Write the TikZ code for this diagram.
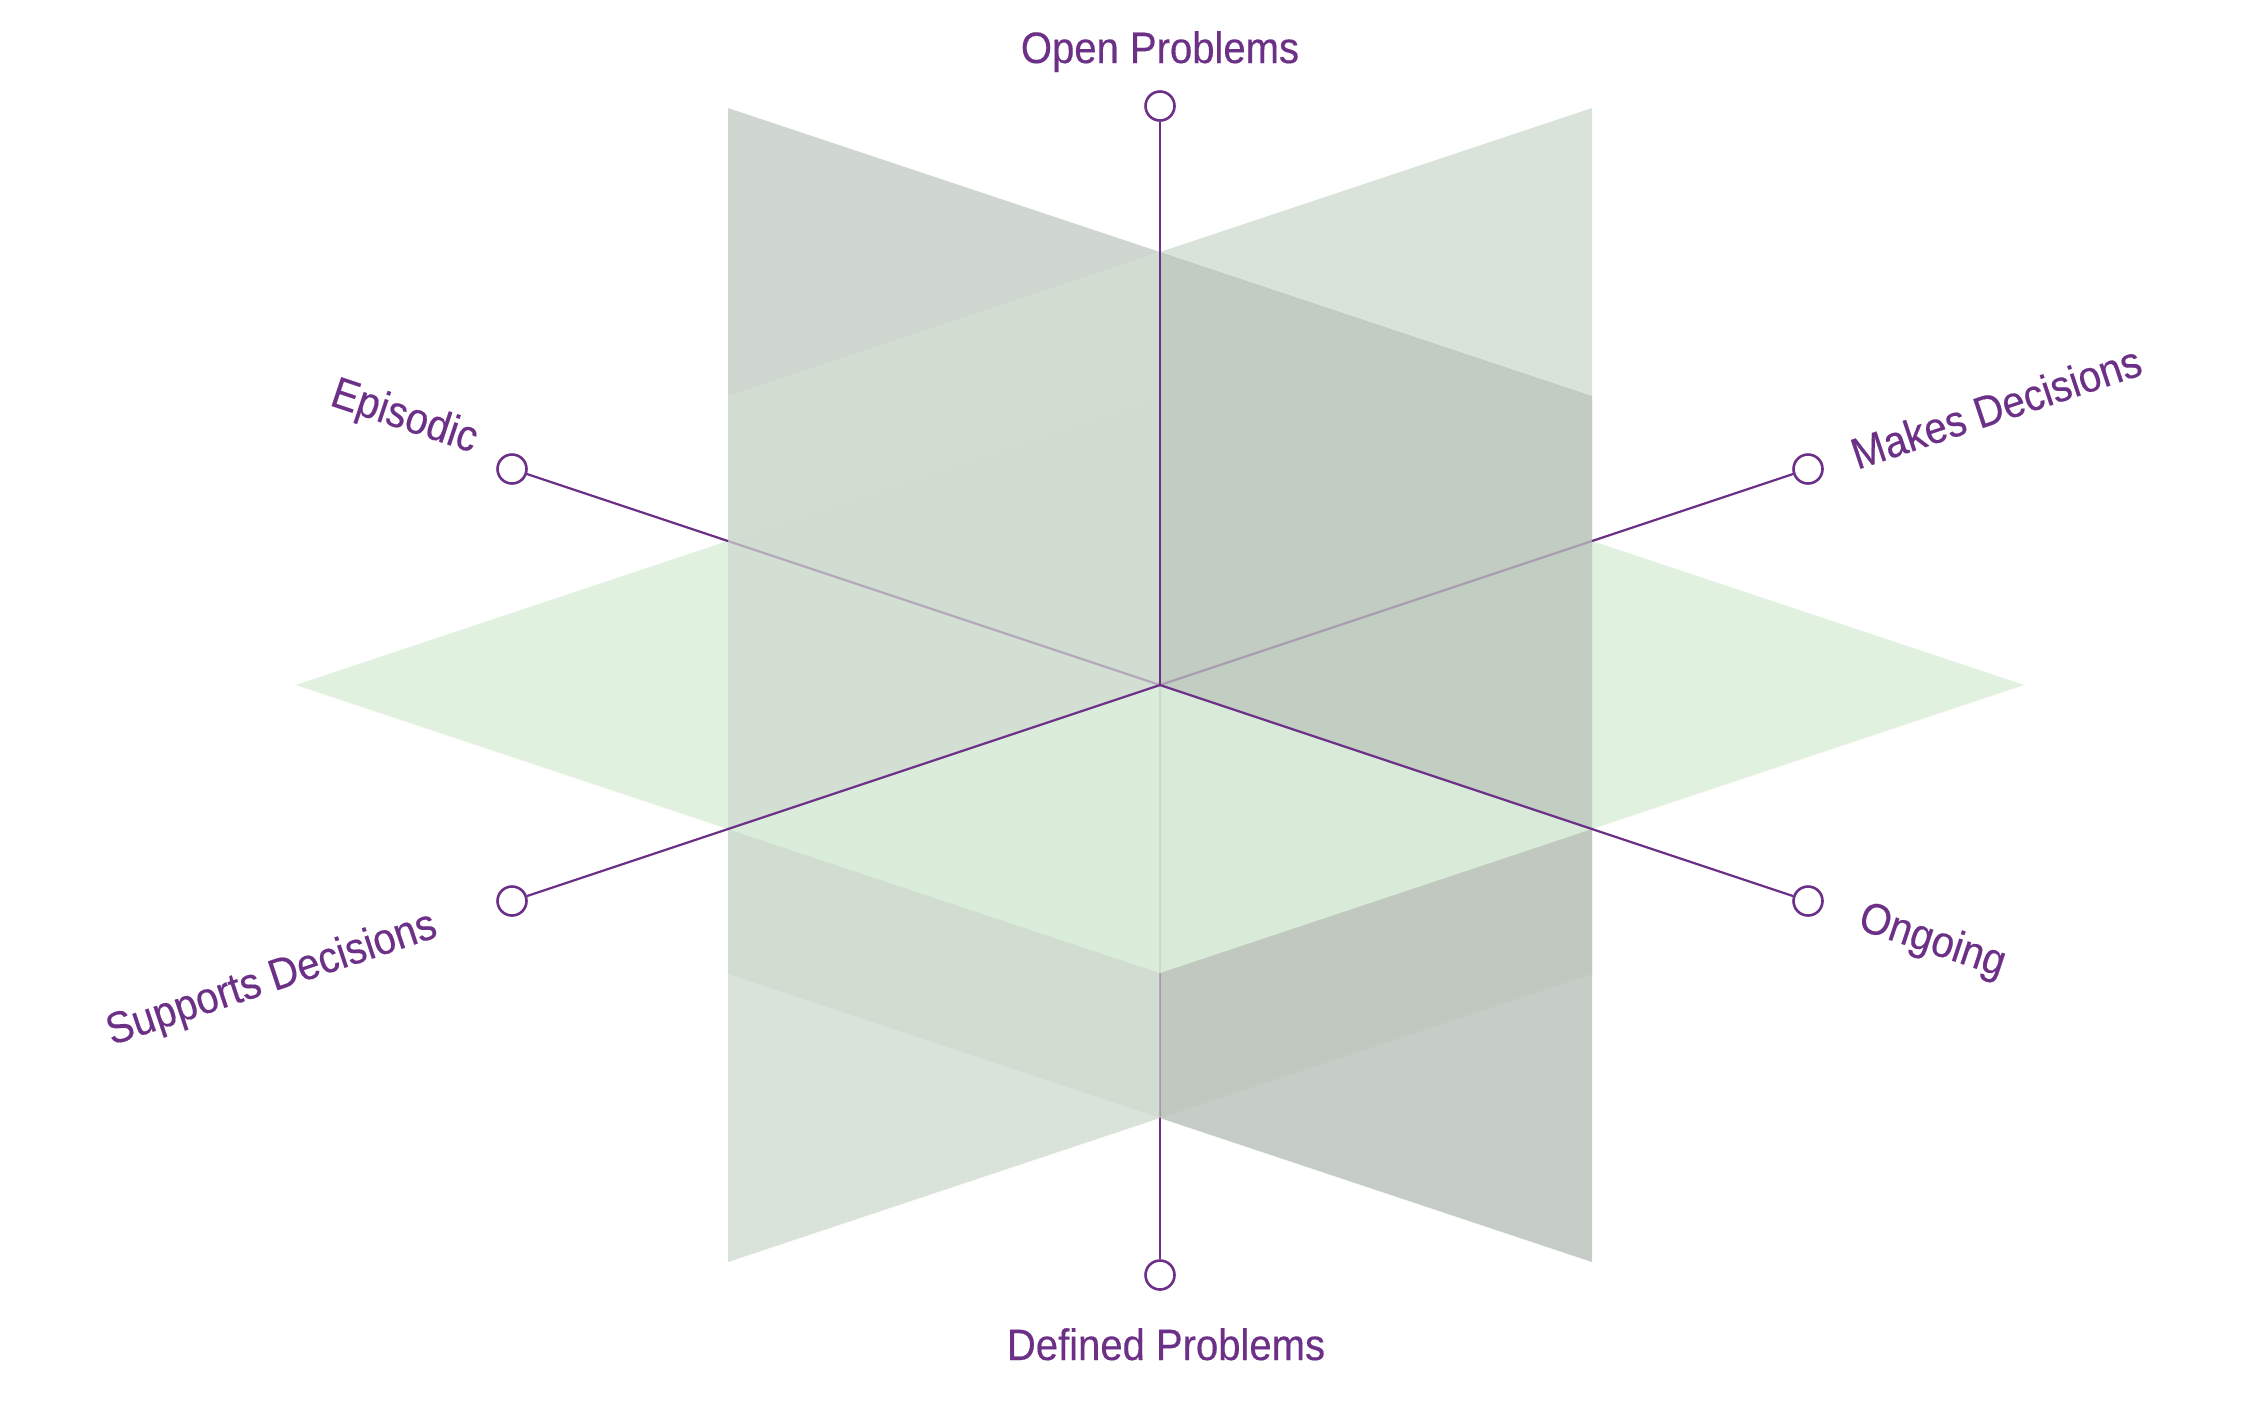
\documentclass[tikz,border=0pt]{standalone}
\usepackage{fontspec}
\setmainfont{Liberation Sans}[FakeStretch=0.91,FakeBold=0.35]
\definecolor{purp}{RGB}{108,48,135}
\definecolor{colAl}{RGB}{199,207,199}
\definecolor{colAr}{RGB}{192,201,192}
\definecolor{colAbr}{RGB}{188,196,188}
\definecolor{colB}{RGB}{211,222,211}
\definecolor{colH}{RGB}{220,239,220}
\begin{document}
\begin{tikzpicture}[x=0.5pt,y=-0.5pt,
  face/.style={fill=#1,fill opacity=0.85,draw=none},
  hface/.style={fill=colH,fill opacity=0.88,draw=none},
  axis/.style={draw=purp,line width=1.1pt},
  faded/.style={draw=purp,line width=1.1pt,draw opacity=0.3},
  faint/.style={draw=purp,line width=1.1pt,draw opacity=0.1},
  endpt/.style={circle,draw=purp,fill=white,line width=1.3pt,minimum size=14.5pt,inner sep=0pt},
  lab/.style={text=purp,font=\fontsize{22}{26}\selectfont,inner sep=0pt}
]
\useasboundingbox (0,0) rectangle (2252,1404);
% key points
\coordinate (C) at (1160,685);
\coordinate (Cmu) at (728,541);
\coordinate (Cpu) at (1592,829);
\coordinate (Cpw) at (1592,541);
\coordinate (Cmw) at (728,829);
\coordinate (Vup) at (1160,252);
\coordinate (Vdn) at (1160,1118);
\coordinate (Atl) at (728,108);
\coordinate (Atr) at (1592,396);
\coordinate (Abl) at (728,974);
\coordinate (Abr) at (1592,1262);
\coordinate (Btl) at (728,396);
\coordinate (Btr) at (1592,108);
\coordinate (Bbl) at (728,1262);
\coordinate (Bbr) at (1592,974);
\coordinate (HL) at (296,685);
\coordinate (HT) at (1160,397);
\coordinate (HR) at (2024,685);
\coordinate (HB) at (1160,973);

% bottom halves (back first)
\fill[face=colAl] (C) -- (Cmu) -- (Abl) -- (Vdn) -- cycle;
\fill[face=colB] (C) -- (Cpw) -- (Bbr) -- (Vdn) -- cycle;
\fill[face=colB] (C) -- (Cmw) -- (Bbl) -- (Vdn) -- cycle;
\fill[face=colAbr] (C) -- (Cpu) -- (Abr) -- (Vdn) -- cycle;
% horizontal plane
\fill[hface] (C) -- (Cmu) -- (HT) -- (Cpw) -- cycle;
\fill[hface] (C) -- (Cmw) -- (HL) -- (Cmu) -- cycle;
\fill[hface] (C) -- (Cpw) -- (HR) -- (Cpu) -- cycle;
\fill[hface] (C) -- (Cpu) -- (HB) -- (Cmw) -- cycle;
% top halves
\fill[face=colAl] (C) -- (Cmu) -- (Atl) -- (Vup) -- cycle;
\fill[face=colB] (C) -- (Cpw) -- (Btr) -- (Vup) -- cycle;
\fill[face=colB] (C) -- (Cmw) -- (Btl) -- (Vup) -- cycle;
\fill[face=colAr] (C) -- (Cpu) -- (Atr) -- (Vup) -- cycle;

% end points
\node[endpt] (top) at (1160,106) {};
\node[endpt] (bot) at (1160,1275) {};
\node[endpt] (epi) at (512,469) {};
\node[endpt] (mak) at (1808,469) {};
\node[endpt] (sup) at (512,901) {};
\node[endpt] (ong) at (1808,901) {};

% axes
\draw[faint] (C) -- (HB);
\draw[faded] (HB) -- (Vdn);
\draw[axis] (Vdn) -- (bot);
\draw[faded] (C) -- (Cmu);
\draw[axis] (Cmu) -- (epi);
\draw[faded] (C) -- (Cpw);
\draw[axis] (Cpw) -- (mak);
\draw[axis] (C) -- (top);
\draw[axis] (C) -- (sup);
\draw[axis] (C) -- (ong);

% labels
\node[lab,anchor=base] (lop) at (1160,63) {Open Problems};
\node[lab,anchor=base] (ldp) at (1166,1360) {Defined Problems};
\node[lab,rotate=-18.43] (lep) at (404,418) {Episodic};
\node[lab,rotate=18.43] (lmd) at (1996,407) {Makes Decisions};
\node[lab,rotate=18.43] (lsd) at (272,980) {Supports Decisions};
\node[lab,rotate=-18.43] (lon) at (1932,942) {Ongoing};
\end{tikzpicture}
\end{document}
